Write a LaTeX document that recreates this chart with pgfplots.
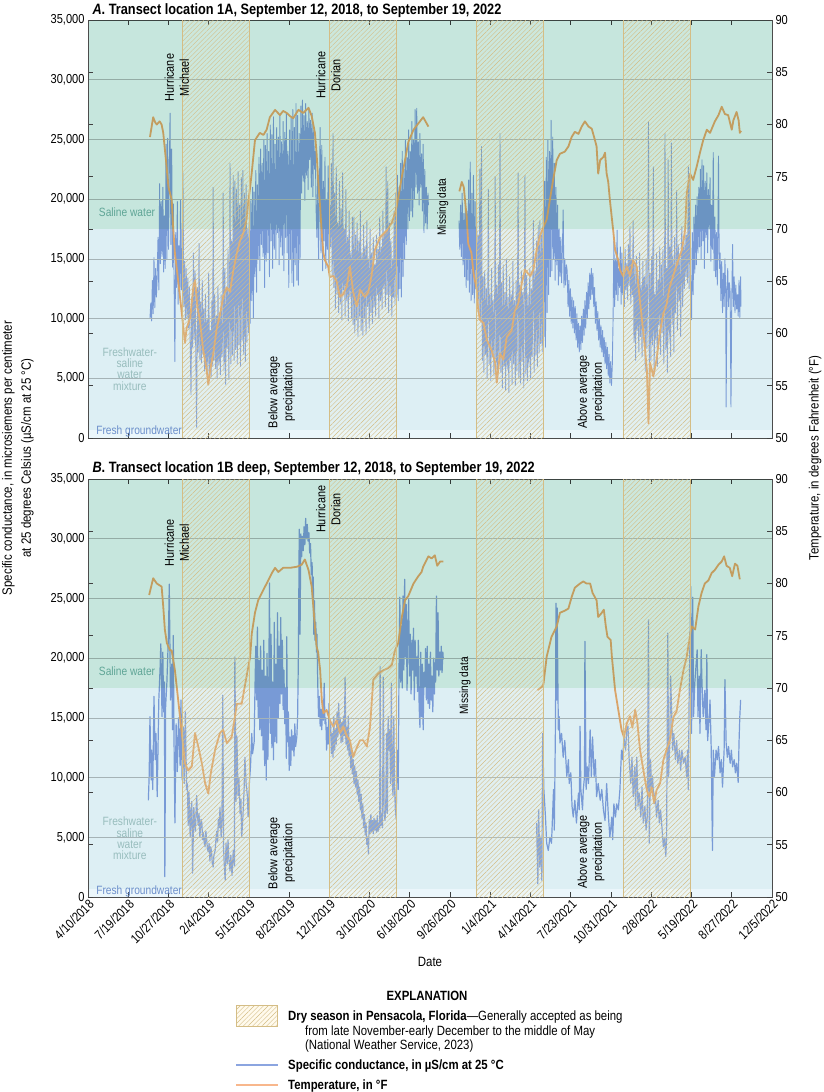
\documentclass[border=0pt]{standalone}
\usepackage{fontspec}
\setmainfont{Liberation Sans}[FakeStretch=0.85]
\usepackage{pgfplots}
\pgfplotsset{compat=1.18}
\usetikzlibrary{patterns.meta}
\definecolor{bandS}{HTML}{C6E6DD}
\definecolor{bandM}{HTML}{DDEFF4}
\definecolor{bandF}{HTML}{EBF6FB}
\definecolor{bluec}{HTML}{8BA5E0}
\definecolor{orangec}{HTML}{FCAF6E}
\definecolor{orangeleg}{HTML}{F8B78C}
\definecolor{hatchc}{HTML}{D4BD85}
\definecolor{hatchbg}{HTML}{FFF6DA}
\definecolor{salinetxt}{HTML}{5FA596}
\definecolor{mixtxt}{HTML}{98BDBD}
\definecolor{freshtxt}{HTML}{6C8FCB}
\newcommand{\tfont}{\fontsize{13}{13}\selectfont}
\newcommand{\afont}{\fontsize{12.8}{15}\selectfont}
\newcommand{\bands}{%
 \fill[bandS, blend mode=multiply] (rel axis cs:0,0.5) rectangle (rel axis cs:1,1);
 \fill[bandM, blend mode=multiply] (rel axis cs:0,0.02) rectangle (rel axis cs:1,0.5);
 \fill[bandF, blend mode=multiply] (rel axis cs:0,0) rectangle (rel axis cs:1,0.02);
}
\newcommand{\dry}[2]{%
 \fill[hatchbg, opacity=0.12] (axis cs:#1,50) rectangle (axis cs:#2,90);
 \fill[pattern={Lines[angle=45,distance=3.3pt,line width=0.4pt]}, pattern color=hatchc] (axis cs:#1,50) rectangle (axis cs:#2,90);
 \draw[hatchc, line width=0.7pt] (axis cs:#1,50) -- (axis cs:#1,90) (axis cs:#2,50) -- (axis cs:#2,90);
}
\newcommand{\alldry}{\dry{235}{400}\dry{600}{766}\dry{966}{1131}\dry{1331}{1496}}
\pgfplotsset{
 base/.style={scale only axis, width=684pt, height=418pt, xmin=0, xmax=1700, anchor=north west, clip=true,
   axis line style={draw=black!70, line width=0.9pt}},
 leftax/.style={base, ymin=0, ymax=35, ytick={0,5,...,35},
   yticklabels={0,{5,000},{10,000},{15,000},{20,000},{25,000},{30,000},{35,000}},
   ytick pos=left, y tick style={draw=none},
   xtick={0,100,...,1700}, xtick pos=both, tick align=inside, major tick length=5pt,
   x tick style={black!75, line width=0.8pt},
   ymajorgrids, major grid style={black!25, line width=0.6pt}, axis on top,
   tick label style={font=\tfont}},
 rightax/.style={base, ymin=50, ymax=90, ytick={50,55,...,90},
   yticklabels={50,55,60,65,70,75,80,85,90},
   ytick pos=both, yticklabel pos=right, hide x axis, tick align=inside, major tick length=5pt,
   y tick style={black!75, line width=0.8pt}, axis on top,
   tick label style={font=\tfont}},
 bA/.style={bluec, line width=0.9pt, line join=round},
 bB/.style={bluec, line width=1.2pt, line join=round},
 oT/.style={orangec, line width=1.8pt, line join=round},
}
\begin{document}
\begin{tikzpicture}
\useasboundingbox (0pt,0pt) rectangle (824pt,-1092pt);
% ================= PANEL A =================
\begin{axis}[leftax, at={(88pt,-20pt)}, xticklabels={}]
\addplot[bA] coordinates {(154,10.0)(156,11.3)(158,9.8)(160,13.2)(162,10.4)(164,15.1)(166,10.9)(168,14.2)(170,11.8)(172,13.6)(174,16.8)(176,12.4)
(178,21.3)(180,14.6)(182,19.8)(184,15.2)(186,21.0)(188,13.9)(190,18.6)(192,14.2)(194,24.6)(196,15.0)(198,25.1)(200,15.8)(202,22.3)(204,27.2)(206,16.2)(208,24.2)(210,14.3)(212,19.6)(214,12.8)(216,6.4)(218,17.2)(220,12.6)(222,19.8)(224,11.2)(226,16.1)(228,12.0)
(230,19.9)(232,12.4)(234,15.5)(236,22.2)(238,11.0)(240,14.8)(242,9.9)(244,14.2)(246,10.1)(248,13.4)(250,9.2)(252,12.6)(254,8.0)(256,3.6)(258,11.8)(260,7.6)
(262,15.5)(264,8.2)(266,14.0)(268,6.5)(270,0.9)(272,12.6)(274,7.2)(276,16.3)(278,6.6)(280,11.4)(282,6.3)(284,13.2)(286,7.0)(288,10.8)(290,5.6)(292,12.0)(294,6.0)
(296,9.9)(298,5.2)(300,13.8)(302,5.6)(304,9.0)(306,5.1)(308,11.5)(310,6.0)(311,21.0)(313,6.5)(315,12.0)(317,5.8)(319,10.2)
(321,5.0)(323,12.7)(325,6.1)(327,10.5)(329,5.3)(331,12.0)(333,6.8)(335,9.8)(336,20.5)(338,5.6)(340,14.2)(342,4.5)(344,12.5)(346,7.5)(348,15.8)(350,4.9)(352,13.0)(353,23.0)(355,6.2)(357,16.5)(359,7.0)(361,22.0)
(363,6.5)(365,21.5)(367,7.4)(369,20.8)(371,6.2)(373,22.3)(375,7.8)(377,19.5)(379,6.0)(381,21.8)(383,8.2)(385,22.4)(387,7.0)(389,20.5)(391,6.4)(393,21.2)(395,8.0)(397,17.5)
(399,8.8)(401,20.0)(403,9.6)(405,19.9)(407,11.5)(409,21.0)(411,10.0)(413,20.6)(415,13.5)(417,22.4)(419,12.2)(421,21.2)(423,15.0)(425,23.5)(427,14.0)(429,24.2)(431,16.2)(433,23.0)(435,15.2)(437,25.0)(439,12.6)(441,24.5)(443,14.8)
(445,25.5)(447,15.5)(449,24.0)(451,13.5)(453,26.2)(455,16.5)(457,25.4)(459,14.2)(461,26.9)(463,15.8)(465,24.6)(467,15.0)(469,26.0)(471,17.2)(473,25.2)(475,14.5)(477,27.0)(479,16.0)(481,24.8)(483,15.3)(485,26.5)(487,14.0)(489,25.6)(491,16.8)(493,27.2)(495,15.5)(497,24.0)(499,12.6)(501,25.8)
(503,15.0)(505,26.8)(507,13.0)(509,27.5)(511,12.7)(513,26.0)(515,14.5)(517,28.0)(519,13.2)(521,27.0)(523,12.8)(525,25.5)(527,15.0)(529,27.8)
(531,20.5)(533,28.3)(535,21.5)(537,27.0)(539,19.9)(541,28.0)(543,22.0)(545,26.5)(547,20.8)(549,27.6)(551,23.3)(553,26.6)(555,21.0)(557,27.2)(559,20.2)(561,25.8)(563,22.5)(565,24.0)(567,19.0)
(569,16.8)(571,22.5)(573,15.0)(575,20.0)(577,26.0)(579,15.5)(581,24.5)(583,14.0)(585,21.5)(587,16.5)(589,23.5)(591,14.2)(593,20.0)(595,15.8)(597,22.8)(599,14.0)(601,19.5)(603,16.0)(605,23.0)(607,13.5)(609,25.5)
(611,12.6)(613,20.5)(615,10.8)(617,22.7)(619,12.0)(621,18.0)(623,10.5)(625,21.5)(627,11.2)(629,19.2)(631,9.9)(633,22.2)(635,12.4)(637,17.5)(639,10.2)(641,20.8)(643,11.5)(645,16.8)(647,9.8)(649,19.0)(651,11.8)(653,15.5)(655,10.0)(657,18.5)
(659,9.5)(661,18.5)(663,8.8)(665,17.0)(667,9.9)(669,18.0)(671,8.5)(673,16.5)(675,10.2)(677,19.0)(679,9.0)(681,15.5)(683,8.6)(685,17.8)(687,10.0)(689,16.0)(691,8.7)(693,18.2)(695,11.0)(697,15.0)(699,9.2)
(701,17.5)(703,10.5)(705,15.5)(707,9.6)(709,16.8)(711,11.0)(713,14.5)(715,10.2)(717,17.0)(719,12.0)(721,15.8)(723,10.0)(725,18.5)(727,11.5)(729,16.0)(731,10.8)(733,19.0)(735,12.5)(737,17.2)(739,11.0)(741,22.7)(743,12.0)(745,21.5)(747,10.5)(749,18.0)(751,12.0)(753,16.5)(755,10.2)(757,15.0)
(759,11.8)(761,19.0)(763,11.2)(765,20.5)(767,12.0)(769,22.0)(771,11.5)(773,21.0)(775,12.5)(777,23.0)(779,11.8)(781,24.0)(783,13.5)(785,22.5)(787,15.0)(789,25.0)(791,16.2)(793,23.5)(795,17.5)(797,25.8)(799,18.2)(801,24.0)(803,19.0)(805,26.5)(807,18.5)(809,25.0)(811,20.0)(813,27.5)(815,21.0)(817,27.6)(819,20.5)(821,24.8)(823,19.5)(825,25.5)(827,21.0)(829,23.8)(831,19.0)(833,24.6)(835,17.2)(837,22.5)(839,18.0)(841,21.0)(843,17.5)(845,20.5)(846,19.5)};
\addplot[bA] coordinates {(922,18.2)(924,15.8)(926,19.5)(928,15.2)(930,20.5)(932,14.5)(934,18.8)(936,13.5)(938,20.0)(940,12.6)(942,19.0)(944,13.2)(946,21.6)(948,12.2)(950,23.1)(952,11.5)(954,20.5)(956,12.0)(958,22.0)(960,11.3)(962,19.8)(964,12.5)(966,18.5)(968,11.0)(970,17.0)(972,10.5)(974,22.5)(976,9.8)(978,24.4)
(980,6.5)(982,13.5)(984,5.5)(986,14.0)(988,7.0)(990,12.5)(992,5.0)(994,13.8)(995,20.8)(997,6.2)(999,12.0)(1001,4.8)(1003,14.2)(1005,6.8)(1007,11.5)(1009,5.2)(1011,13.0)(1012,21.9)(1014,5.8)(1016,12.8)(1018,4.9)(1020,14.5)(1022,6.5)(1024,25.5)
(1026,5.5)(1028,13.0)(1030,4.2)(1032,14.5)(1034,6.0)(1036,12.2)(1038,4.0)(1040,15.0)(1042,5.8)(1044,11.8)(1046,3.8)(1048,13.5)(1050,6.5)(1052,12.0)(1054,4.5)(1056,14.8)(1058,6.2)(1060,11.5)(1062,4.4)(1064,13.2)(1066,5.6)(1068,15.5)(1069,22.2)(1071,5.0)(1073,12.8)(1075,4.6)(1077,14.0)(1079,6.4)(1081,12.2)(1083,4.2)(1085,15.2)(1086,22.0)(1088,5.4)(1090,13.6)(1092,4.8)(1094,12.0)(1096,6.0)(1098,14.2)(1100,5.0)(1102,12.5)(1104,6.8)(1106,15.8)(1107,18.2)(1109,5.5)(1111,14.0)(1113,7.0)(1115,16.5)(1117,6.0)(1119,17.8)(1121,7.1)(1123,18.2)
(1125,7.9)(1127,17.0)(1129,7.2)(1131,19.0)(1133,8.5)(1135,21.5)(1137,7.6)(1139,23.5)(1141,10.5)(1143,25.0)(1145,12.0)(1147,24.0)(1149,13.5)(1151,26.6)(1153,14.0)(1155,25.2)(1157,15.0)(1159,23.0)(1161,13.2)(1163,21.0)(1165,14.5)(1167,19.5)(1169,12.8)(1171,17.5)(1173,13.5)(1175,16.8)(1177,13.0)(1179,15.8)(1181,19.1)(1183,12.6)(1185,15.0)(1187,12.8)(1189,14.5)
(1191,14.0)(1193,11.0)(1195,13.2)(1197,10.2)(1199,12.5)(1201,9.6)(1203,11.8)(1205,9.2)(1207,11.5)(1209,8.8)(1211,11.0)(1213,8.2)(1215,10.4)(1217,7.6)(1219,9.6)(1221,7.2)(1223,9.4)(1225,7.4)(1227,10.2)(1229,8.0)(1231,10.8)(1233,8.6)(1235,11.5)(1237,9.2)(1239,12.2)(1241,10.0)(1243,13.0)(1245,10.8)(1247,13.8)(1249,11.6)(1251,14.2)(1253,12.0)(1255,13.8)(1257,11.0)(1259,12.6)(1261,9.6)(1263,11.4)(1265,9.0)(1267,10.6)(1269,8.2)(1271,10.0)(1273,7.6)(1275,9.4)(1277,7.2)(1279,9.0)(1281,6.8)(1283,8.4)(1285,6.2)(1287,8.0)(1289,5.8)(1291,7.6)(1293,5.2)(1295,7.0)(1297,4.6)(1299,6.4)(1301,4.4)(1303,6.0)(1305,9.9)
(1307,16.5)(1309,11.0)(1311,15.0)(1313,12.0)(1315,17.4)(1317,11.5)(1319,14.2)(1321,12.6)(1323,16.0)(1325,11.2)(1327,15.5)(1329,12.0)(1331,14.0)(1333,11.0)(1335,15.8)(1337,12.4)(1339,14.6)(1341,11.6)(1343,16.2)(1345,12.8)(1347,17.7)(1349,11.2)(1351,15.0)(1353,12.0)
(1355,18.2)(1357,8.0)(1359,14.5)(1361,6.5)(1363,15.2)(1365,9.0)(1367,13.0)(1369,7.2)(1371,15.5)(1373,8.5)(1375,12.8)(1377,6.8)(1379,14.8)(1381,9.2)(1383,13.5)(1385,5.6)(1387,15.0)(1389,7.5)(1391,12.5)(1393,26.5)(1395,5.0)(1397,13.8)(1399,6.5)(1401,15.2)(1403,7.8)(1405,22.7)(1407,5.4)(1409,12.0)(1411,8.2)(1413,15.5)(1415,6.0)(1417,13.2)(1419,9.5)(1421,16.0)(1423,7.0)(1425,14.5)(1427,8.8)(1429,15.8)(1431,6.2)(1433,13.0)(1434,25.5)(1436,7.4)(1438,14.2)
(1440,5.5)(1442,23.3)(1444,8.0)(1446,16.0)(1448,6.8)(1450,24.7)(1452,9.5)(1454,15.2)(1456,7.2)(1458,16.8)(1460,10.5)(1462,14.5)(1463,20.7)(1465,9.0)(1467,16.2)(1469,11.5)(1471,15.0)(1473,8.5)(1475,16.5)(1476,17.7)(1478,11.0)(1480,16.0)(1482,12.5)(1484,17.0)(1486,13.5)
(1488,17.0)(1490,13.0)(1492,22.7)(1494,12.5)(1496,22.0)(1498,10.5)(1500,9.9)(1502,17.2)(1504,12.0)(1506,18.5)(1508,13.8)(1510,19.5)(1512,14.5)(1514,20.2)(1516,15.5)(1518,21.0)(1520,16.0)
(1522,22.5)(1524,15.0)(1526,23.3)(1528,16.5)(1530,22.8)(1532,14.2)(1534,21.5)(1536,16.8)(1538,22.2)(1540,15.5)(1542,20.8)(1544,17.5)(1546,21.8)(1548,14.8)(1550,19.5)(1552,15.8)(1554,23.9)(1556,14.0)(1558,18.5)(1560,13.5)(1562,17.2)(1564,12.8)(1566,19.0)(1567,23.6)(1569,14.2)
(1571,15.5)(1573,11.5)(1575,14.8)(1577,10.5)(1579,13.8)(1581,11.0)(1583,15.0)(1585,12.0)(1586,2.6)(1588,12.5)(1590,14.2)(1592,11.0)(1594,13.0)(1596,12.2)(1598,2.6)(1600,11.5)(1602,16.2)(1604,11.0)(1606,13.5)(1608,10.5)(1610,12.8)(1612,10.8)(1614,12.0)(1616,10.2)(1618,13.2)(1620,10.1)(1622,13.5)(1623,11.0)};
\end{axis}
\begin{axis}[rightax, at={(88pt,-20pt)}]
\addplot[oT] coordinates {(154,78.8)(162,80.7)(167,80.2)(171,80.0)(178,80.3)(183,80.0)(187,79.2)(194,76.5)(200,74.0)(208,72.8)(212,69.9)(216,67.7)(224,65.1)(233,62.0)(241,59.1)(245,60.5)(254,61.5)(262,64.5)(266,65.1)(272,62.5)(278,61.3)(286,58.5)(295,56.5)(299,55.1)(305,56.8)(311,58.0)(320,60.5)(328,61.8)(336,63.5)(345,64.4)(353,64.0)(361,66.0)(370,67.7)(378,68.9)(386,69.6)(394,70.9)(398,72.5)(403,74.0)(407,75.4)(415,78.5)(427,79.2)(436,79.0)(444,79.5)(452,80.7)(465,81.4)(477,80.9)(485,81.3)(494,81.1)(502,80.8)(510,80.6)(523,81.4)(535,81.1)(548,81.6)(556,80.8)(564,79.2)(568,77.3)(572,74.7)(577,72.1)(581,69.6)(585,67.7)(589,67.0)(597,66.4)(601,65.4)(610,65.5)(618,65.0)(626,63.5)(635,63.8)(643,64.5)(651,66.4)(659,64.0)(668,62.6)(676,64.2)(688,63.5)(697,64.0)(705,65.6)(713,68.0)(726,69.2)(742,69.8)(755,70.6)(763,71.5)(767,72.1)(780,75.0)(788,76.6)(796,78.3)(809,79.5)(821,80.1)(833,80.7)(846,79.8)};
\addplot[oT] coordinates {(923,73.6)(929,74.5)(934,74.0)(941,71.2)(945,68.6)(953,67.7)(958,65.8)(966,64.2)(970,62.2)(974,61.3)(983,61.0)(991,59.4)(1003,58.4)(1012,57.2)(1016,55.3)(1024,58.1)(1032,57.5)(1041,59.7)(1053,60.3)(1061,62.2)(1069,62.8)(1078,64.8)(1086,66.1)(1099,65.5)(1107,66.1)(1115,68.0)(1123,69.3)(1132,70.2)(1140,70.9)(1148,72.8)(1156,74.7)(1165,76.6)(1173,77.2)(1185,77.4)(1194,77.9)(1202,78.8)(1210,79.3)(1219,79.1)(1227,79.8)(1235,80.3)(1244,79.8)(1252,79.6)(1260,78.5)(1264,77.9)(1268,75.3)(1273,76.6)(1281,76.9)(1285,77.3)(1289,75.3)(1293,74.5)(1297,72.8)(1306,69.6)(1310,68.0)(1318,67.0)(1322,66.1)(1330,65.5)(1339,66.4)(1347,65.5)(1355,67.0)(1364,66.4)(1368,64.5)(1376,61.6)(1384,58.7)(1389,56.5)(1393,51.4)(1397,57.2)(1405,55.9)(1413,57.5)(1422,60.3)(1430,61.9)(1438,62.8)(1446,64.5)(1459,66.1)(1467,67.0)(1476,68.0)(1484,69.9)(1488,73.4)(1496,75.3)(1504,74.7)(1513,76.0)(1521,77.3)(1529,78.5)(1538,79.5)(1546,79.2)(1558,80.3)(1567,80.9)(1575,81.7)(1583,81.0)(1591,80.9)(1600,79.5)(1604,80.4)(1612,81.2)(1617,80.4)(1620,79.2)(1623,79.4)};
\bands
\alldry
\node[rotate=90, align=center, font=\afont] at (axis cs:221,84.5) {Hurricane\\Michael};
\node[rotate=90, align=center, font=\afont] at (axis cs:597,84.7) {Hurricane\\Dorian};
\node[rotate=90, align=center, font=\afont] at (axis cs:481,54.4) {Below average\\precipitation};
\node[rotate=90, align=center, font=\afont] at (axis cs:1250,54.4) {Above average\\precipitation};
\node[rotate=90, font=\fontsize{12}{12}\selectfont] at (axis cs:882,72.1) {Missing data};
\node[text=salinetxt, font=\fontsize{12}{12}\selectfont] at (axis cs:97,71.6) {Saline water};
\node[text=mixtxt, align=center, font=\fontsize{12}{11.3}\selectfont] at (axis cs:104,56.6) {Freshwater-\\saline\\water\\mixture};
\node[text=freshtxt, font=\fontsize{12}{12}\selectfont] at (axis cs:127,50.6) {Fresh groundwater};
\end{axis}
% ================= PANEL B =================
\begin{axis}[leftax, at={(88pt,-479pt)},
  xticklabels={4/10/2018,7/19/2018,10/27/2018,2/4/2019,5/15/2019,8/23/2019,12/1/2019,3/10/2020,6/18/2020,9/26/2020,1/4/2021,4/14/2021,7/23/2021,10/31/2021,2/8/2022,5/19/2022,8/27/2022,12/5/2022},
  xticklabel style={rotate=45, anchor=north east, inner sep=1pt}]
\addplot[bB] coordinates {(150,8.1)(152,10.1)(154,15.1)(157,9.8)(158,12.3)(161,9.0)(164,16.8)(167,11.5)(169,13.7)(172,8.4)(176,16.5)(179,19.0)(181,21.2)(184,15.1)(186,20.5)(188,15.5)(190,18.0)(191,1.7)(193,16.0)(196,17.9)(200,22.0)(202,26.2)(205,16.5)(208,19.5)(210,14.0)(212,21.9)(214,12.5)(216,6.2)(219,14.5)(222,10.5)(225,15.0)(229,11.0)(231,16.5)(234,9.8)(237,14.2)(239,9.5)(242,15.5)(245,9.0)(247,9.5)(249,6.0)(251,8.8)(254,5.0)(256,7.2)(258,8.0)(260,2.0)(263,7.5)(265,6.2)(267,5.5)(270,8.5)(272,6.8)(274,6.0)(276,7.0)(278,5.0)(281,6.5)(283,6.2)(285,4.8)(287,5.4)(289,4.5)(291,4.2)(293,5.5)(295,4.8)(297,4.0)(299,3.8)(301,4.5)(303,3.0)(305,4.2)(307,3.8)(309,2.8)(311,2.5)(313,3.5)(316,3.9)(318,4.8)(320,5.5)(322,4.6)(324,6.5)(326,5.8)(328,7.5)(331,5.0)(333,6.5)(335,16.9)(337,4.0)(339,2.5)(341,1.4)(343,4.5)(346,2.8)(348,4.8)(350,3.2)(353,2.2)(355,3.5)(358,1.8)(361,3.9)(364,2.6)(365,20.1)(368,8.0)(370,13.5)(373,8.5)(375,10.0)(378,7.0)(380,8.2)(382,5.0)(385,6.7)(388,9.0)(390,11.7)(393,9.5)(396,8.5)(398,6.7)(401,9.5)(404,11.0)(407,13.7)(409,12.0)(413,13.0)(415,17.5)
(417,21.0)(419,16.5)(421,22.6)(423,15.0)(425,19.8)(427,14.0)(429,21.0)(431,13.5)(433,19.0)(435,12.3)(437,21.5)(439,11.0)(441,18.5)(443,9.8)(445,20.4)(447,11.5)(449,16.0)(451,26.3)(453,13.7)(455,22.0)(457,12.5)(459,18.0)(461,11.5)(463,23.0)(465,13.0)(467,19.5)(469,12.9)(471,23.8)(473,15.0)(475,21.0)(477,16.2)(479,23.4)
(481,17.0)(483,21.5)(485,15.7)(487,19.0)(489,14.5)(491,17.5)(493,11.6)(494,21.8)(496,13.0)(498,15.5)(500,10.6)(502,13.4)(504,11.0)(506,14.0)(508,12.3)(510,13.5)(512,11.8)(514,14.5)(516,12.6)(519,13.4)(521,15.1)
(523,20.5)(525,30.8)(527,22.0)(529,30.4)(531,28.5)(533,30.2)(535,29.0)(537,31.0)(539,29.5)(541,31.7)(543,30.0)(545,31.2)(547,29.8)(549,30.5)(551,28.8)(553,29.6)(555,27.0)(557,28.0)(558,25.1)(560,26.8)(561,22.0)(563,24.8)(564,21.5)(566,23.0)(568,20.5)(569,22.0)
(571,17.9)(573,15.1)(575,16.8)(577,14.3)(579,15.7)(581,14.0)(583,16.2)(585,14.8)(587,17.9)(589,14.5)(591,15.0)(593,12.3)(595,14.2)(597,12.8)(599,16.2)(601,13.5)(603,14.5)(605,12.0)(607,13.7)(609,11.7)
(611,15.1)(613,12.3)(615,14.0)(617,12.8)(619,15.5)(621,13.4)(623,16.2)(625,13.8)(627,15.0)(629,12.9)(631,14.6)(633,13.0)(635,15.1)(637,13.5)(639,18.4)(641,12.8)(643,14.2)(645,12.3)(647,15.1)(649,11.8)(651,12.9)(653,10.8)(655,12.2)(657,10.3)(659,11.5)
(661,9.5)(663,11.0)(665,9.2)(667,10.5)(669,8.6)(671,9.8)(673,8.0)(675,9.2)(677,7.3)(679,8.6)(681,6.6)(683,7.8)(685,5.8)(687,6.9)(689,5.2)(691,6.2)(693,4.4)(695,5.0)(697,3.6)
(699,6.5)(701,5.3)(703,6.9)(705,5.5)(707,6.4)(709,5.3)(711,6.6)(713,5.6)(715,6.4)(717,5.4)(719,6.8)(721,5.5)(723,6.2)(725,5.8)(726,19.3)(728,6.0)(730,7.0)(732,5.8)(734,18.4)(736,7.2)(738,6.4)(740,7.4)(742,13.7)
(744,7.0)(746,15.1)(748,12.3)(750,14.0)(752,9.5)(754,17.9)(756,10.0)(758,8.5)(760,15.1)(762,9.0)(764,7.3)(766,6.5)(768,12.0)(770,12.3)
(771,9.0)(773,19.0)(775,25.1)(777,18.0)(779,22.7)(781,17.5)(783,25.2)(785,19.0)(787,26.6)(789,20.1)(791,24.5)(793,17.3)(795,22.5)(797,24.9)(799,18.5)(801,22.0)(803,17.0)(805,21.5)(807,19.0)(809,22.5)(811,16.5)(813,21.5)(815,18.5)(817,20.1)(819,17.2)(821,21.5)(823,16.0)
(825,14.2)(827,20.5)(829,15.1)(831,19.5)(833,14.0)(835,18.8)(837,17.6)(839,20.8)(841,16.5)(843,21.0)(845,16.2)(847,19.5)(849,15.8)(851,20.5)(853,16.5)(855,18.5)(857,15.5)(859,20.0)(861,17.0)(862,19.6)(864,18.0)(866,25.2)(868,19.0)(870,23.8)(872,18.5)(874,20.5)(876,19.0)(878,21.0)(880,18.8)(882,20.5)(883,19.9)};
\addplot[bB] coordinates {(1115,6.2)(1118,1.1)(1120,7.3)(1123,2.5)(1125,5.0)(1128,1.4)(1130,13.7)(1133,9.0)(1137,6.7)(1140,4.5)(1144,3.9)(1148,5.0)(1152,4.5)(1157,9.0)(1159,5.6)(1162,15.1)(1163,24.6)(1165,16.5)(1166,24.2)(1169,14.0)(1171,15.1)(1173,12.9)(1177,13.7)(1181,11.7)(1185,13.1)(1190,10.1)(1194,11.5)(1196,9.5)(1200,10.4)(1203,7.6)(1206,6.7)(1210,8.1)(1214,6.2)(1219,8.7)(1221,7.3)(1223,14.3)(1225,9.0)(1229,7.3)(1231,9.0)(1234,10.1)(1235,21.4)(1238,9.0)(1241,10.9)(1244,9.5)(1248,14.0)(1251,10.1)(1254,13.4)(1258,10.1)(1261,11.5)(1264,8.4)(1268,9.5)(1273,8.1)(1277,9.0)(1281,7.3)(1285,6.4)(1289,9.5)(1293,7.0)(1297,5.0)(1302,6.7)(1304,4.8)(1307,7.8)(1311,6.7)(1314,7.8)(1318,7.3)(1322,9.0)
(1326,12.3)(1329,11.5)(1332,13.4)(1336,12.3)(1339,14.0)(1342,14.3)(1345,11.5)(1349,9.5)(1352,11.7)(1355,8.4)(1359,10.9)(1361,7.3)(1364,11.7)(1367,7.6)(1370,8.7)(1374,6.7)(1377,9.2)(1380,6.2)(1384,7.6)(1387,5.6)(1390,6.7)(1393,23.2)(1395,4.5)(1398,11.5)(1401,9.0)(1403,10.1)(1407,7.8)(1410,8.7)(1413,6.7)(1417,8.1)(1420,6.2)(1423,7.3)(1427,5.6)(1430,4.2)(1433,5.0)(1436,3.4)(1438,5.0)(1441,22.1)(1443,10.1)(1446,13.1)(1448,18.5)(1451,15.1)(1453,12.3)(1456,13.7)(1460,11.5)(1463,13.1)(1466,11.2)(1470,12.3)(1473,10.6)(1476,12.3)(1480,11.2)(1484,11.7)(1488,10.1)
(1490,12.3)(1492,9.0)(1494,16.5)(1498,26.0)(1500,13.7)(1503,25.1)(1505,15.1)(1508,17.9)(1511,19.3)(1514,20.7)(1516,15.1)(1519,18.5)(1521,13.7)(1524,20.7)(1526,17.9)(1529,15.1)(1533,17.3)(1536,14.0)(1538,20.3)(1540,13.1)(1543,14.5)(1546,16.5)(1549,12.3)(1552,3.9)(1554,12.3)(1557,10.1)(1561,12.3)(1564,11.5)(1567,12.6)(1571,10.4)(1574,11.5)(1577,9.2)(1581,12.3)(1583,18.2)(1586,12.9)(1589,11.7)(1592,12.6)(1596,11.2)(1599,12.3)(1602,10.9)(1606,11.5)(1609,10.4)(1612,11.2)(1616,9.6)(1618,12.9)(1620,15.1)(1622,16.5)};
\end{axis}
\begin{axis}[rightax, at={(88pt,-479pt)}]
\addplot[oT] coordinates {(152,78.9)(162,80.5)(171,80.0)(179,79.8)(183,79.7)(187,77.8)(191,75.6)(196,74.3)(204,73.6)(208,73.6)(216,71.7)(224,68.9)(233,65.7)(241,62.8)(249,62.1)(258,62.5)(266,65.7)(274,64.4)(283,62.8)(291,60.9)(299,59.9)(305,61.8)(316,64.1)(328,65.7)(336,66.0)(345,64.7)(357,65.3)(365,67.2)(370,68.5)(382,68.5)(394,71.1)(403,73.0)(407,75.2)(415,77.2)(423,78.4)(436,79.4)(444,80.0)(457,81.0)(465,81.5)(473,81.1)(485,81.5)(502,81.5)(519,81.6)(531,81.8)(539,82.3)(548,81.3)(556,79.7)(560,77.8)(564,75.9)(568,74.0)(572,73.4)(577,71.7)(581,68.9)(585,67.6)(593,67.9)(601,66.9)(610,66.3)(618,66.9)(626,65.7)(635,66.3)(643,65.4)(651,65.0)(659,63.4)(668,64.3)(676,65.0)(684,65.0)(693,64.4)(701,66.3)(709,70.8)(722,71.4)(734,71.7)(746,71.9)(755,72.2)(763,73.6)(771,74.3)(780,76.8)(788,78.4)(796,78.8)(809,80.0)(821,80.7)(829,81.1)(833,81.6)(846,82.6)(854,82.4)(862,82.7)(868,81.7)(875,82.1)(883,82.1)};
\addplot[oT] coordinates {(1117,69.8)(1128,70.1)(1132,70.4)(1140,73.0)(1152,74.9)(1165,75.9)(1173,77.2)(1185,77.4)(1194,77.6)(1202,78.7)(1210,79.6)(1223,80.0)(1231,80.2)(1239,80.0)(1248,80.0)(1254,79.1)(1264,78.4)(1268,76.8)(1277,77.2)(1282,77.5)(1287,75.9)(1291,74.9)(1299,74.6)(1302,73.0)(1310,69.8)(1318,67.9)(1326,66.0)(1332,65.3)(1339,66.6)(1347,67.3)(1353,66.2)(1360,67.9)(1365,66.8)(1372,64.1)(1380,62.2)(1389,60.2)(1395,59.6)(1401,60.5)(1407,59.0)(1413,60.2)(1422,60.9)(1430,63.1)(1438,64.1)(1446,65.0)(1455,67.2)(1463,67.8)(1471,69.8)(1480,71.7)(1488,73.0)(1492,74.0)(1500,75.9)(1509,75.6)(1517,77.8)(1525,79.1)(1533,80.0)(1542,80.3)(1550,81.0)(1558,81.3)(1567,81.8)(1575,82.1)(1581,82.6)(1587,81.7)(1595,81.5)(1601,80.7)(1608,81.9)(1614,81.7)(1620,80.4)};
\bands
\alldry
\node[rotate=90, align=center, font=\afont] at (axis cs:221,83.9) {Hurricane\\Michael};
\node[rotate=90, align=center, font=\afont] at (axis cs:597,87.1) {Hurricane\\Dorian};
\node[rotate=90, align=center, font=\afont] at (axis cs:481,54.2) {Below average\\precipitation};
\node[rotate=90, align=center, font=\afont] at (axis cs:1250,54.3) {Above average\\precipitation};
\node[rotate=90, font=\fontsize{12}{12}\selectfont] at (axis cs:937,70.2) {Missing data};
\node[text=salinetxt, font=\fontsize{12}{12}\selectfont] at (axis cs:97,71.6) {Saline water};
\node[text=mixtxt, align=center, font=\fontsize{12}{11.3}\selectfont] at (axis cs:104,55.6) {Freshwater-\\saline\\water\\mixture};
\node[text=freshtxt, font=\fontsize{12}{12}\selectfont] at (axis cs:127,50.55) {Fresh groundwater};
\end{axis}
% ================= TITLES AND LABELS =================
\node[anchor=base west, font=\bfseries\fontsize{15}{15}\selectfont] at (89pt,-14pt) {\textit{A}. Transect location 1A, September 12, 2018, to September 19, 2022};
\node[anchor=base west, font=\bfseries\fontsize{15}{15}\selectfont] at (89pt,-472.7pt) {\textit{B}. Transect location 1B deep, September 12, 2018, to September 19, 2022};
\node[rotate=90, align=center, font=\fontsize{13.5}{19}\selectfont] at (18pt,-458pt) {Specific conductance, in microsiemens per centimeter\\at 25 degrees Celsius (µS/cm at 25 °C)};
\node[rotate=90, font=\fontsize{13.5}{19}\selectfont] at (815pt,-458pt) {Temperature, in degrees Fahrenheit (°F)};
\node[font=\fontsize{13.5}{13.5}\selectfont] at (430pt,-962pt) {Date};
% ================= LEGEND =================
\node[anchor=base, font=\bfseries\fontsize{13.4}{13.4}\selectfont] at (427pt,-1000pt) {EXPLANATION};
\fill[hatchbg!50] (236pt,-1005pt) rectangle (277pt,-1026pt);
\fill[pattern={Lines[angle=45,distance=3.3pt,line width=0.4pt]}, pattern color=hatchc] (236pt,-1005pt) rectangle (277pt,-1026pt);
\draw[hatchc, line width=0.7pt] (236pt,-1005pt) rectangle (277pt,-1026pt);
\begin{scope}[every node/.style={anchor=base west, font=\fontsize{13.4}{13.4}\selectfont, inner sep=0pt}]
\node at (288pt,-1020.7pt) {\textbf{Dry season in Pensacola, Florida}---Generally accepted as being};
\node at (305pt,-1035pt) {from late November-early December to the middle of May};
\node at (305pt,-1049.3pt) {(National Weather Service, 2023)};
\node at (288pt,-1069.3pt) {\textbf{Specific conductance, in µS/cm at 25 °C}};
\node at (288pt,-1089pt) {\textbf{Temperature, in °F}};
\end{scope}
\draw[bluec, line width=2.2pt] (236pt,-1065.3pt) -- (278pt,-1065.3pt);
\draw[orangeleg, line width=2.2pt] (236pt,-1085pt) -- (278pt,-1085pt);
\end{tikzpicture}
\end{document}
